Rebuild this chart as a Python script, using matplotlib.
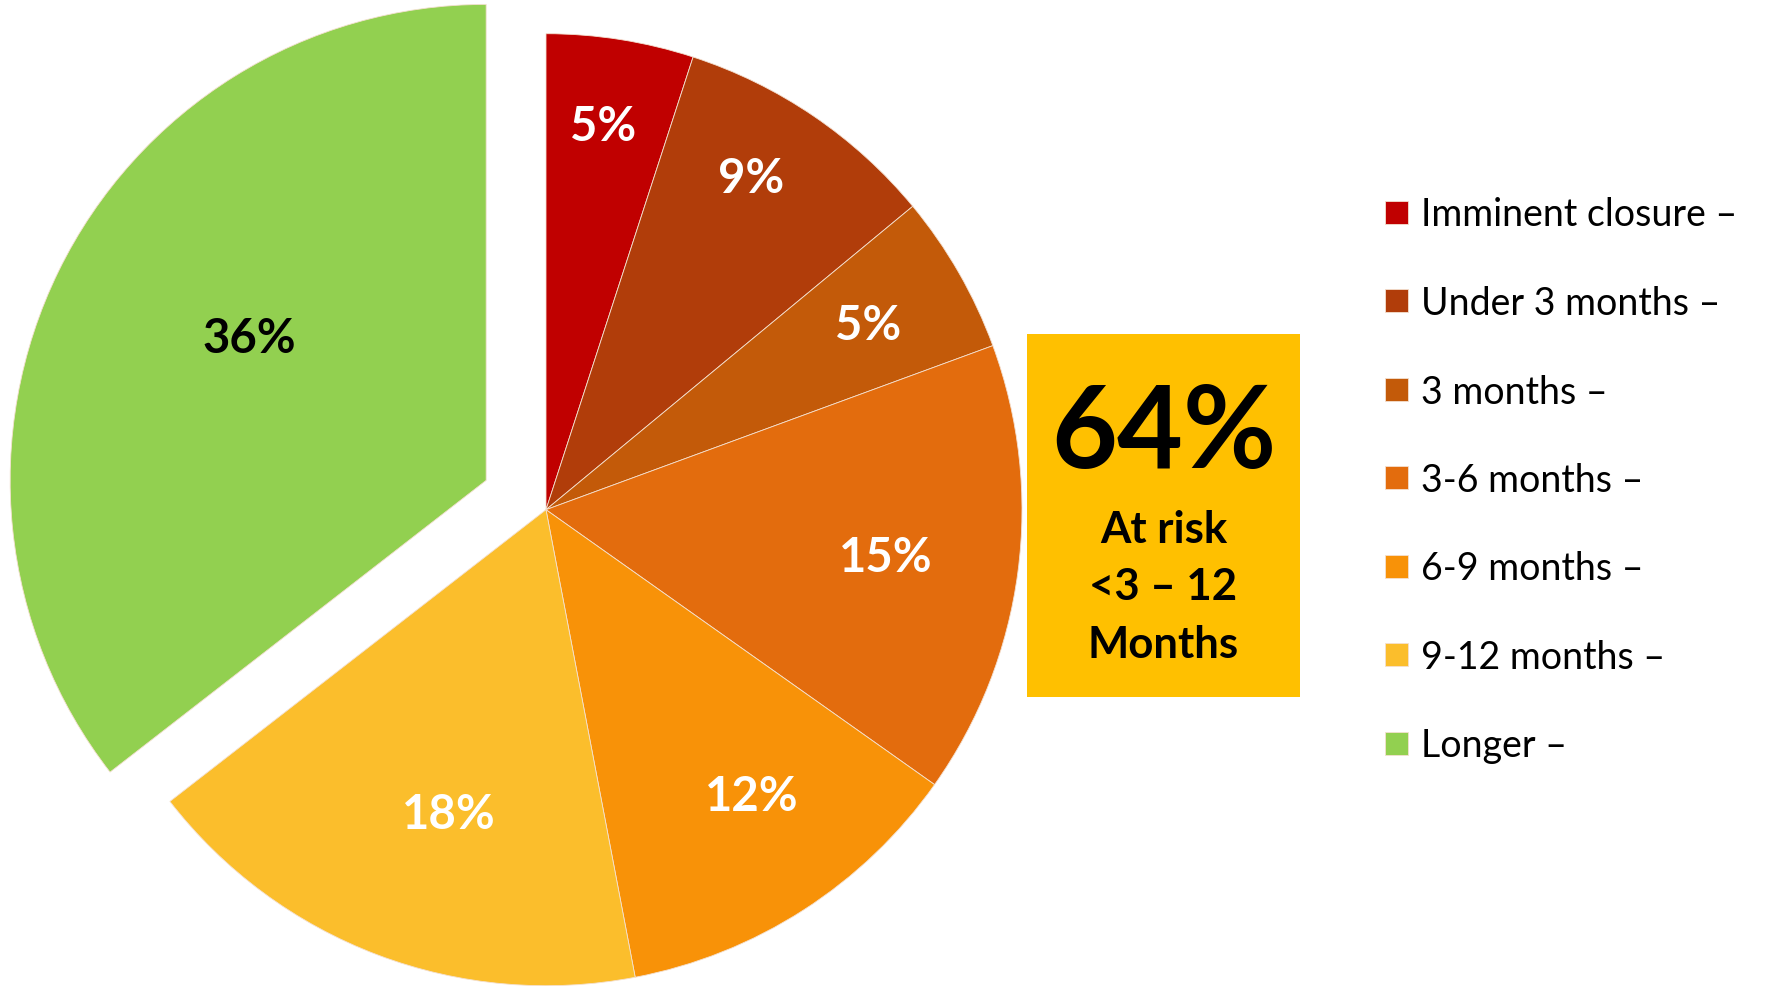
import numpy as np
import matplotlib.pyplot as plt
from matplotlib.patches import Rectangle

plt.rcParams['font.family'] = ['Lato', 'DejaVu Sans']

# data (share of respondents, %)
categories = ['Imminent closure –', 'Under 3 months –', '3 months –',
              '3-6 months –', '6-9 months –', '9-12 months –', 'Longer –']
shares = [5.0, 9.0, 5.4, 15.4, 12.2, 17.5, 35.5]
colors = ['#C00000', '#B13D0A', '#C35A09', '#E36C0D', '#F89208', '#FBBE2C', '#92D050']
explode = [0, 0, 0, 0, 0, 0, 0.14]
label_colors = ['white'] * 6 + ['black']
label_dist = [0.815, 0.82, 0.78, 0.72, 0.74, 0.67, 0.58]
label_turn = [0.5, 2.5, 0, -0.4, 3, 3, -5]    # degrees away from the slice middle
at_risk = sum(shares[:6])

W, H = 1773, 987
cx, cy, R = 546, 510.7, 476   # pie centre and radius in pixels

fig = plt.figure(figsize=(W / 100, H / 100), dpi=100)
fig.patch.set_facecolor('white')
ax = fig.add_axes([0, 0, 1, 1])

wedges, _ = ax.pie(shares, colors=colors, explode=explode, startangle=90,
                   counterclock=False, radius=1,
                   wedgeprops=dict(edgecolor='#f4e0d0', linewidth=0.6))
# pie resets the limits, so map one radius to R pixels afterwards
ax.set_xlim(-cx / R, (W - cx) / R)
ax.set_ylim(-(H - cy) / R, cy / R)
ax.axis('off')

for w, val, c, d, t in zip(wedges, shares, label_colors, label_dist, label_turn):
    mid = np.deg2rad((w.theta1 + w.theta2) / 2 + t)
    x0, y0 = w.center
    ax.text(x0 + d * np.cos(mid), y0 + d * np.sin(mid), f'{round(val)}%',
            ha='center', va='center', color=c, fontsize=34, fontweight='bold')


def fx(px):
    return px / W


def fy(py):
    return 1 - py / H


# at-risk callout box
bx0, by0, bx1, by1 = 1027, 335, 1300, 698
fig.patches.append(Rectangle((fx(bx0), fy(by1)), fx(bx1) - fx(bx0), fy(by0) - fy(by1),
                             transform=fig.transFigure, facecolor='#FFC000',
                             edgecolor='none'))
bxc = (bx0 + bx1) / 2
fig.text(fx(bxc), fy(435), f'{round(at_risk)}%', ha='center', va='center',
         fontsize=82, fontweight='bold', color='black')
for i, line in enumerate(['At risk', '<3 – 12', 'Months']):
    fig.text(fx(bxc), fy(530 + 57.5 * i), line, ha='center', va='center',
             fontsize=31.5, fontweight='bold', color='black')

fig.legend(wedges, categories, loc='upper left', bbox_to_anchor=(fx(1385), fy(197.5)),
           frameon=False, fontsize=27, handlelength=0.62, handleheight=0.57,
           handletextpad=0.33, labelspacing=1.40, borderpad=0, borderaxespad=0)

fig.savefig('out.png', dpi=100, facecolor='white')
